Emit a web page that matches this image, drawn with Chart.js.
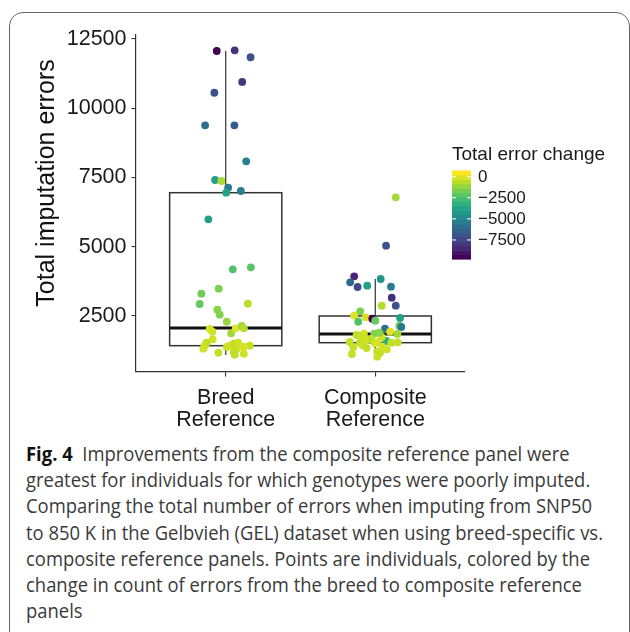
<!DOCTYPE html>
<html>
<head>
<meta charset="utf-8">
<script src="https://cdn.jsdelivr.net/npm/chart.js@4.4.1/dist/chart.umd.min.js"></script>
<style>
  html, body { margin: 0; padding: 0; background: #fff; }
  body { width: 630px; height: 632px; position: relative; overflow: hidden; }
  #frame { position: absolute; left: 9px; top: 12px; width: 621px; height: 700px;
           border: 1px solid #666; border-radius: 14px; box-sizing: border-box; }
  #plot { position: absolute; left: 0; top: 0; }
  #caption { position: absolute; left: 26px; top: 441px; font-family: "Open Sans", sans-serif;
             font-size: 20px; line-height: 26.2px; color: #3a3a3a; }
  #caption div { white-space: nowrap; transform-origin: 0 50%; width: max-content; }
  #caption b { color: #111; }
</style>
</head>
<body>
<div id="frame"></div>
<canvas id="plot" width="630" height="440"></canvas>
<div id="caption">
  <div><b>Fig. 4</b>&nbsp; Improvements from the composite reference panel were</div>
  <div>greatest for individuals for which genotypes were poorly imputed.</div>
  <div>Comparing the total number of errors when imputing from SNP50</div>
  <div id="capref">to 850 K in the Gelbvieh (GEL) dataset when using breed-specific vs.</div>
  <div>composite reference panels. Points are individuals, colored by the</div>
  <div>change in count of errors from the breed to composite reference</div>
  <div>panels</div>
</div>
<script>
// ---- data ----
const categoryLabels = [['Breed', 'Reference'], ['Composite', 'Reference']];
const yTitle = 'Total imputation errors';
const yTicks = [2500, 5000, 7500, 10000, 12500];
const yRange = [478, 12644];
const legendTitle = 'Total error change';
const changeTicks = [0, -2500, -5000, -7500];
const changeRange = [-9530, 450];

// total imputation errors per individual, breed-specific reference
const breedErrors = [12067, 12090, 11840, 10950, 10560, 9384, 9384, 8085, 7410, 7374, 7132, 6951, 7013,
  5991, 4186, 4258, 3486, 3305, 2933, 2944, 2727, 2547, 2294, 2031, 1933, 1875, 2056, 2139, 2056,
  1659, 1536, 1417, 1320, 1175, 1380, 1428, 1514, 1536, 1298, 1103, 1139, 1428, 1392, 1190, 1392];
const breedJitter = [-0.060, 0.060, 0.166, 0.110, -0.076, -0.138, 0.058, 0.137, -0.071, -0.029, 0.016,
  0.003, 0.101, -0.116, 0.047, 0.168, -0.047, -0.163, -0.174, 0.148, -0.056, -0.040, 0.007, -0.107,
  -0.089, 0.036, 0.067, 0.107, 0.121, -0.087, -0.128, -0.141, -0.150, -0.049, 0.007, 0.025, 0.056,
  0.083, 0.070, 0.060, 0.121, 0.161, 0.094, 0.054, 0.121];
const breedChange = [-9530, -8130, -6930, -7930, -7130, -5940, -6630, -5240, -3940, -850, -5540, -3740,
  -5340, -3840, -2340, -2140, -1550, -1750, -1940, -650, -1350, -1450, -1150, -150, -250, -950, -50,
  -1050, -650, -250, -550, -450, -250, -450, -350, -250, -550, -350, -450, -550, -350, -450, -250,
  -550, -150];

// total imputation errors per individual, composite reference
const compositeErrors = [6785, 5038, 3933, 3717, 3547, 3594, 3836, 3560, 3161, 2872, 2872, 2670, 2510,
  2452, 2402, 2330, 2294, 2428, 2150, 2103, 2042, 1597, 1850, 1551, 1536, 1298, 1933, 1742, 1551,
  1212, 1031, 1897, 1861, 1861, 1814, 1561, 1370, 1128, 1536, 1440, 1345, 1634, 1670, 1514, 1175,
  1392, 1753];
const compositeJitter = [0.137, 0.072, -0.141, -0.168, -0.118, -0.054, 0.036, 0.105, 0.110, 0.137, 0.043,
  -0.101, -0.141, -0.064, -0.020, 0.000, -0.114, 0.166, 0.161, 0.174, 0.065, 0.074, 0.148, 0.150,
  0.107, 0.077, 0.099, 0.043, 0.013, 0.013, 0.013, 0.027, -0.007, -0.076, -0.125, -0.170, -0.148,
  -0.156, -0.103, -0.085, -0.058, -0.058, -0.027, -0.002, 0.032, 0.047, -0.094];
const compositeChange = [-950, -7030, -8530, -6130, -7330, -3940, -4340, -5340, -8230, -7030, -750,
  -1550, -50, -150, -9530, -1940, -2340, -3940, -1750, -5540, -5840, -3340, -950, -450, -550, -350,
  -50, -250, -250, -450, -350, -1350, -1450, -150, -550, -450, -350, -450, -650, -350, -450, -250,
  -550, -150, -450, -250, -350];

// box summaries: lower whisker, first quartile, median, third quartile, upper whisker
const boxLower = [1090, 1128];
const boxQ1 = [1428, 1536];
const boxMedian = [2067, 1850];
const boxQ3 = [6951, 2500];
const boxUpper = [12077, 3836];

// ---- colour scale ----
const VIRIDIS = ['#440154', '#482475', '#414487', '#355f8d', '#2a788e', '#21918c',
                 '#22a884', '#44bf70', '#7ad151', '#bddf26', '#fde725'];
function hexRgb(h) { return [1, 3, 5].map(i => parseInt(h.slice(i, i + 2), 16)); }
function viridis(t) {
  t = Math.min(1, Math.max(0, t));
  const p = t * 10, i = Math.min(9, Math.floor(p)), f = p - i;
  const a = hexRgb(VIRIDIS[i]), b = hexRgb(VIRIDIS[i + 1]);
  const c = a.map((v, k) => Math.round(v + (b[k] - v) * f));
  return `rgb(${c[0]},${c[1]},${c[2]})`;
}
function changeColor(v) { return viridis((v - changeRange[0]) / (changeRange[1] - changeRange[0])); }

const FONT = '"Liberation Sans", Arial, Helvetica, sans-serif';
const AXIS = '#333333';

// boxes go under the jittered points
const boxPlugin = {
  id: 'boxes',
  beforeDatasetsDraw(chart) {
    const { ctx, scales: { x, y } } = chart;
    ctx.save();
    boxMedian.forEach((m, i) => {
      const cx = x.getPixelForValue(i + 1);
      const hw = x.getPixelForValue(i + 1 + 0.375) - cx;
      const yl = y.getPixelForValue(boxLower[i]), y1 = y.getPixelForValue(boxQ1[i]);
      const ym = y.getPixelForValue(m), y3 = y.getPixelForValue(boxQ3[i]);
      const yu = y.getPixelForValue(boxUpper[i]);
      ctx.strokeStyle = AXIS; ctx.lineWidth = 1.2;
      ctx.beginPath();
      ctx.moveTo(cx, y3); ctx.lineTo(cx, yu);
      ctx.moveTo(cx, y1); ctx.lineTo(cx, yl);
      ctx.stroke();
      ctx.fillStyle = '#fff';
      ctx.fillRect(cx - hw, y3, 2 * hw, y1 - y3);
      ctx.lineWidth = 1.5;
      ctx.strokeRect(cx - hw, y3, 2 * hw, y1 - y3);
      ctx.strokeStyle = '#111'; ctx.lineWidth = 3;
      ctx.beginPath(); ctx.moveTo(cx - hw, ym); ctx.lineTo(cx + hw, ym); ctx.stroke();
    });
    ctx.restore();
  }
};

// y-axis title, centred a little above the panel middle
const yTitlePlugin = {
  id: 'yTitle',
  afterDraw(chart) {
    const ctx = chart.ctx;
    ctx.save();
    ctx.translate(47, 183);
    ctx.rotate(-Math.PI / 2);
    ctx.fillStyle = '#111';
    ctx.font = `25px ${FONT}`;
    ctx.textAlign = 'center';
    ctx.textBaseline = 'middle';
    ctx.fillText(yTitle, 0, 0);
    ctx.restore();
  }
};

// continuous colour legend: 20 stepped bins
const colorbarPlugin = {
  id: 'colorbar',
  afterDraw(chart) {
    const ctx = chart.ctx;
    const left = 452, top = 170.7, w = 19, h = 88.6, nbin = 20;
    const binH = h / nbin, bottom = top + h;
    const [lo, hi] = changeRange;
    ctx.save();
    ctx.fillStyle = '#1a1a1a';
    ctx.font = `19px ${FONT}`;
    ctx.textBaseline = 'middle';
    ctx.textAlign = 'left';
    ctx.fillText(legendTitle, 452, 155);
    for (let k = 0; k < nbin; k++) {
      ctx.fillStyle = changeColor(lo + (hi - lo) * k / (nbin - 1));
      ctx.fillRect(left, bottom - (k + 1) * binH - 0.3, w, binH + 0.6);
    }
    ctx.font = `17px ${FONT}`;
    changeTicks.forEach(v => {
      const ty = bottom - (0.5 + (v - lo) / (hi - lo) * (nbin - 1)) * binH;
      ctx.strokeStyle = '#fff'; ctx.lineWidth = 1;
      ctx.beginPath();
      ctx.moveTo(left, ty); ctx.lineTo(left + 4, ty);
      ctx.moveTo(left + w - 4, ty); ctx.lineTo(left + w, ty);
      ctx.stroke();
      ctx.fillStyle = '#1a1a1a';
      ctx.fillText(v === 0 ? '0' : '\u2212' + Math.abs(v), 478, ty + 0.5);
    });
    ctx.restore();
  }
};

function points(errors, jitter, pos) { return errors.map((e, i) => ({ x: pos + jitter[i], y: e })); }

new Chart(document.getElementById('plot'), {
  type: 'scatter',
  data: {
    datasets: [
      { data: points(breedErrors, breedJitter, 1), pointBackgroundColor: breedChange.map(changeColor),
        pointRadius: 3.9, pointBorderWidth: 0 },
      { data: points(compositeErrors, compositeJitter, 2), pointBackgroundColor: compositeChange.map(changeColor),
        pointRadius: 3.9, pointBorderWidth: 0 }
    ]
  },
  options: {
    responsive: false,
    animation: false,
    devicePixelRatio: 1,
    layout: { padding: { left: 30, right: 165, top: 35, bottom: 0 } },
    plugins: { legend: { display: false }, tooltip: { enabled: false } },
    events: [],
    scales: {
      x: {
        type: 'linear', min: 0.4, max: 2.6,
        afterBuildTicks: s => { s.ticks = categoryLabels.map((_, i) => ({ value: i + 1 })); },
        afterFit: s => { s.height = 68; },
        ticks: { callback: v => categoryLabels[Math.round(v) - 1], color: '#1a1a1a', padding: 10,
                 maxRotation: 0, autoSkip: false, font: { family: FONT, size: 21.5, lineHeight: 1.05 } },
        grid: { drawOnChartArea: false, drawTicks: true, tickLength: 4.5, color: AXIS, lineWidth: 1.1 },
        border: { display: true, color: AXIS, width: 1.2 }
      },
      y: {
        type: 'linear', min: yRange[0], max: yRange[1],
        afterBuildTicks: s => { s.ticks = yTicks.map(v => ({ value: v })); },
        afterFit: s => { s.width = 106; },
        ticks: { callback: v => String(v), color: '#1a1a1a', padding: 5,
                 font: { family: FONT, size: 21.5 } },
        grid: { drawOnChartArea: false, drawTicks: true, tickLength: 4.5, color: AXIS, lineWidth: 1.1 },
        border: { display: true, color: AXIS, width: 1.2 }
      }
    }
  },
  plugins: [boxPlugin, yTitlePlugin, colorbarPlugin]
});

// caption lines share one horizontal squeeze so the wrap matches the column width
(function fitCaption() {
  const ref = document.getElementById('capref');
  const k = 577 / ref.getBoundingClientRect().width;
  document.querySelectorAll('#caption div').forEach(d => { d.style.transform = `scaleX(${k})`; });
})();
</script>
</body>
</html>
